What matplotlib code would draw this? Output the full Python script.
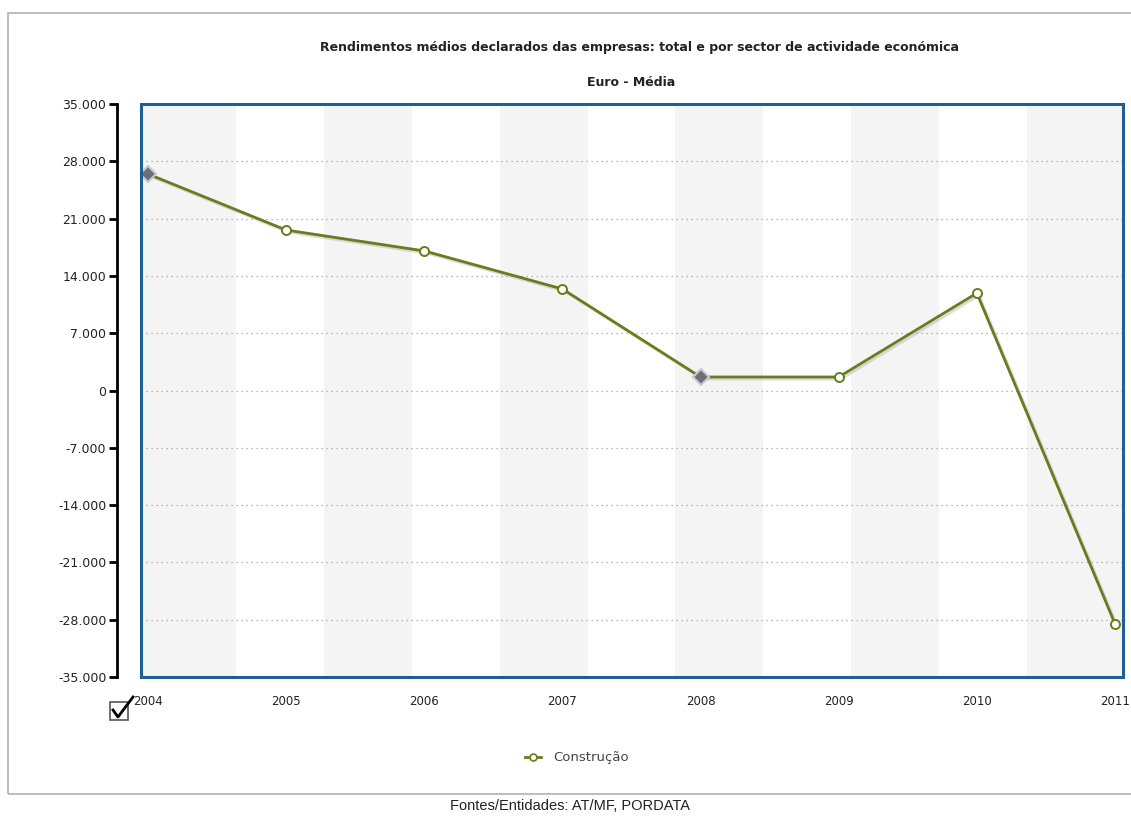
import matplotlib
matplotlib.use("Agg")
import matplotlib.pyplot as plt
import matplotlib.patheffects as pe
from matplotlib.patches import Rectangle
from matplotlib.lines import Line2D

plt.rcParams['font.family'] = ['DejaVu Sans']

years = [2004, 2005, 2006, 2007, 2008, 2009, 2010, 2011]
values = [26450, 19600, 17050, 12400, 1650, 1650, 11900, -28500]
highlighted = [2004, 2008]
yticks = [-35000, -28000, -21000, -14000, -7000, 0, 7000, 14000, 21000, 28000, 35000]
title = "Rendimentos médios declarados das empresas: total e por sector de actividade económica"
subtitle = "Euro - Média"
series_name = "Construção"
source = "Fontes/Entidades: AT/MF, PORDATA"

W, H = 1131, 817
fig = plt.figure(figsize=(W / 100, H / 100), dpi=100)
fig.patch.set_facecolor('white')

def fx(px):
    return px / W

def fy(py):
    return 1 - py / H

# outer frame
fig.patches.append(Rectangle((fx(8), fy(794)), fx(1130) - fx(8) + 0.01, fy(13) - fy(794),
                             transform=fig.transFigure, fill=False, edgecolor='#b0b0b0', lw=1.2))

left, right, top, bottom = 141, 1123, 104, 677
ax = fig.add_axes([fx(left), fy(bottom), fx(right) - fx(left), fy(top) - fy(bottom)])

x0 = 2004 - 7 / 138
x1 = 2011 + 8 / 138
ax.set_xlim(x0, x1)
ax.set_ylim(-35000, 35000)

# alternating background bands
w = 7 / 11
for k in range(0, 11, 2):
    a = 2004 + k * w
    b = 2004 + (k + 1) * w
    if k == 0:
        a = x0
    if k == 10:
        b = x1
    ax.axvspan(a, b, color='#f4f4f5', lw=0, zorder=0)

# grid
for t in yticks[1:-1]:
    ax.axhline(t, color='#a0a0a0', lw=0.9, ls=(0, (1, 3)), zorder=1)

# line with shadow
ax.plot(years, values, color='#667d1c', lw=2.0, zorder=3,
        path_effects=[pe.SimpleLineShadow(offset=(1.5, -1.5), shadow_color='#999999', alpha=0.35),
                      pe.Normal()])
for yr, v in zip(years, values):
    if yr in highlighted:
        ax.plot(yr, v, marker='D', ms=8, mfc='#6e6e78', mec='#c8c8d0', mew=1.5, zorder=5)
    else:
        ax.plot(yr, v, marker='o', ms=6.5, mfc='white', mec='#667d1c', mew=1.4, zorder=5)

# spines
for s in ['top', 'right', 'bottom']:
    ax.spines[s].set_visible(False)
ax.spines['left'].set_position(('outward', 17))
ax.spines['left'].set_color('black')
ax.spines['left'].set_linewidth(2)
ax.patch.set_visible(False)
ax.add_patch(Rectangle((0, 0), 1, 1, transform=ax.transAxes, fill=False,
                       edgecolor='#1f5f96', lw=2.2, zorder=6, clip_on=False))

ax.set_yticks(yticks)
ax.set_yticklabels(['0' if t == 0 else f"{t:,}".replace(',', '.') for t in yticks],
                   fontsize=9, color='#222222')
ax.tick_params(axis='y', length=6, width=2, color='black', pad=2)
ax.set_xticks(years)
ax.set_xticklabels([str(y) for y in years], fontsize=8.5, color='#222222')
ax.tick_params(axis='x', length=0, pad=13)

fig.text(fx(639), fy(47), title, ha='center', va='center', fontsize=9, fontweight='bold', color='#222222')
fig.text(fx(631), fy(82), subtitle, ha='center', va='center', fontsize=9, fontweight='bold', color='#222222')

# checkbox icon
fig.patches.append(Rectangle((fx(110), fy(720)), fx(128) - fx(110), fy(702) - fy(720),
                             transform=fig.transFigure, fill=False, edgecolor='#555555', lw=1.2))
fig.lines.append(Line2D([fx(113), fx(118), fx(133)], [fy(710), fy(717), fy(697)],
                        transform=fig.transFigure, color='black', lw=2))

# legend
h = Line2D([], [], color='#667d1c', lw=2, marker='o', ms=5, mfc='white', mec='#667d1c', mew=1.2)
fig.legend([h], [series_name], loc='center', bbox_to_anchor=(fx(577), fy(758)), frameon=False,
           fontsize=9.5, handlelength=1.2, handletextpad=0.9, labelcolor='#444444')

fig.text(fx(570), fy(806), source, ha='center', va='center', fontsize=10.5, color='#222222',
         family=['Liberation Sans', 'DejaVu Sans'])

fig.savefig('out.png', dpi=100, facecolor='white')
